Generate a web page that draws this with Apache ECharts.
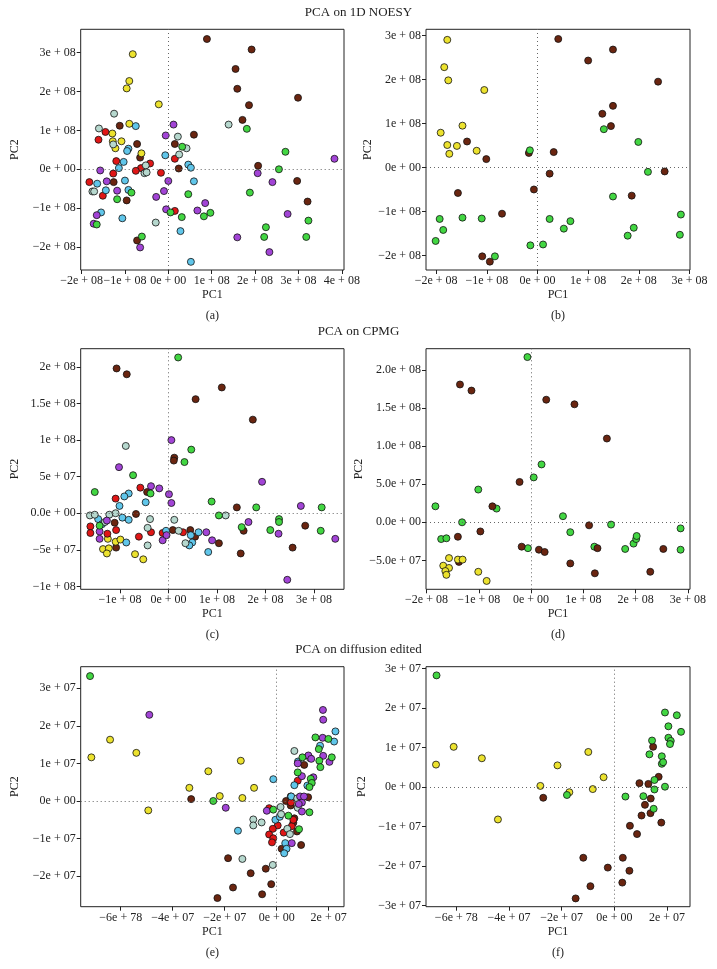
<!DOCTYPE html>
<html><head><meta charset="utf-8">
<script src="https://cdn.jsdelivr.net/npm/echarts@6/dist/echarts.min.js"></script>
<style>html,body{margin:0;padding:0;background:#fff}#c{width:717px;height:969px}</style>
</head><body><div id="c"></div><script>
const COL = {yellow:'#ece22e', brown:'#6a2510', red:'#e01616', blue:'#60c6ea', grey:'#b6d8ce', purple:'#a244d6', green:'#42d642'};
const FONT = '"Liberation Serif","Times New Roman",serif';

// ---------- Panel (a): PCA on 1D NOESY, all groups ----------
const a_brown = [[0.89e8,3.35e8],[1.92e8,3.08e8],[1.55e8,2.58e8],[1.59e8,2.07e8],[1.86e8,1.65e8],[1.71e8,1.27e8],[2.99e8,1.84e8],[-1.12e8,1.12e8],[0.59e8,0.89e8],[0.15e8,0.65e8],[-0.72e8,0.65e8],[-0.65e8,0.30e8],[0.24e8,0.02e8],[2.07e8,0.09e8],[2.97e8,-0.30e8],[3.21e8,-0.83e8],[-1.26e8,-0.33e8],[-0.96e8,-0.80e8],[-0.72e8,-1.83e8]];
const a_yellow = [[-0.82e8,2.96e8],[-0.90e8,2.27e8],[-0.96e8,2.08e8],[-0.22e8,1.67e8],[-0.90e8,1.17e8],[-1.29e8,0.92e8],[-1.28e8,0.72e8],[-1.08e8,0.72e8],[-1.22e8,0.54e8],[-0.62e8,0.41e8]];
const a_red = [[-1.45e8,0.96e8],[-1.61e8,0.76e8],[-1.20e8,0.21e8],[-0.63e8,0.03e8],[-0.42e8,0.15e8],[-0.75e8,-0.04e8],[-1.27e8,-0.11e8],[-1.82e8,-0.33e8],[-1.51e8,-0.68e8],[-0.17e8,-0.09e8],[0.15e8,0.27e8],[0.15e8,-1.07e8]];
const a_blue = [[-0.75e8,1.11e8],[-0.92e8,0.53e8],[-0.95e8,0.47e8],[-1.03e8,0.19e8],[-1.14e8,0.03e8],[-0.07e8,0.36e8],[0.46e8,0.12e8],[0.52e8,0.04e8],[0.59e8,-0.31e8],[-1.00e8,-0.29e8],[-1.64e8,-0.37e8],[-1.44e8,-0.54e8],[-1.55e8,-1.11e8],[-1.06e8,-1.26e8],[0.28e8,-1.59e8],[0.52e8,-2.38e8],[-0.92e8,-0.53e8]];
const a_grey = [[-1.25e8,1.43e8],[-1.60e8,1.05e8],[-1.27e8,0.64e8],[0.22e8,0.84e8],[0.42e8,0.54e8],[0.25e8,0.38e8],[-0.52e8,0.10e8],[-0.55e8,-0.10e8],[-0.50e8,-0.08e8],[-1.75e8,-0.57e8],[-1.71e8,-0.57e8],[-0.29e8,-1.37e8],[1.39e8,1.15e8]];
const a_purple = [[0.12e8,1.15e8],[-0.06e8,0.87e8],[-1.57e8,-0.03e8],[-1.42e8,-0.31e8],[-1.18e8,-0.55e8],[0.00e8,-0.30e8],[-0.10e8,-0.56e8],[-0.28e8,-0.71e8],[-0.05e8,-1.03e8],[0.67e8,-1.06e8],[0.85e8,-0.87e8],[-1.65e8,-1.18e8],[-1.72e8,-1.40e8],[-0.65e8,-2.01e8],[2.06e8,-0.10e8],[2.40e8,-0.33e8],[2.75e8,-1.15e8],[1.59e8,-1.75e8],[2.33e8,-2.13e8],[3.83e8,0.27e8]];
const a_green = [[0.32e8,0.58e8],[-0.85e8,-0.60e8],[-1.18e8,-0.77e8],[0.05e8,-1.11e8],[0.31e8,-1.23e8],[0.46e8,-0.64e8],[0.82e8,-1.21e8],[0.97e8,-1.12e8],[1.81e8,1.04e8],[2.70e8,0.45e8],[2.55e8,0.00e8],[1.88e8,-0.60e8],[3.23e8,-1.32e8],[2.25e8,-1.49e8],[2.21e8,-1.74e8],[3.18e8,-1.74e8],[-1.65e8,-1.42e8],[-0.61e8,-1.73e8]];

// ---------- Panel (b): PCA on 1D NOESY, three groups ----------
const b_yellow = [[-1.78e8,2.90e8],[-1.84e8,2.28e8],[-1.76e8,1.98e8],[-1.05e8,1.76e8],[-1.48e8,0.95e8],[-1.91e8,0.79e8],[-1.78e8,0.51e8],[-1.59e8,0.49e8],[-1.74e8,0.31e8],[-1.20e8,0.38e8]];
const b_brown = [[0.41e8,2.92e8],[1.00e8,2.43e8],[1.49e8,2.68e8],[2.38e8,1.95e8],[1.49e8,1.40e8],[1.28e8,1.22e8],[1.45e8,0.94e8],[-1.39e8,0.59e8],[-1.01e8,0.19e8],[-0.17e8,0.33e8],[0.32e8,0.35e8],[0.24e8,-0.14e8],[2.51e8,-0.09e8],[-0.07e8,-0.50e8],[-1.57e8,-0.58e8],[1.86e8,-0.64e8],[-0.70e8,-1.05e8],[-1.09e8,-2.02e8],[-0.94e8,-2.14e8]];
const b_green = [[-0.15e8,0.39e8],[1.31e8,0.87e8],[1.99e8,0.58e8],[2.18e8,-0.10e8],[1.49e8,-0.66e8],[-1.93e8,-1.17e8],[-1.48e8,-1.14e8],[-1.10e8,-1.16e8],[-1.86e8,-1.42e8],[-2.01e8,-1.67e8],[0.24e8,-1.17e8],[0.65e8,-1.22e8],[0.52e8,-1.39e8],[1.90e8,-1.37e8],[1.78e8,-1.55e8],[2.83e8,-1.07e8],[2.81e8,-1.53e8],[-0.14e8,-1.77e8],[0.11e8,-1.75e8],[-0.84e8,-2.02e8]];

// ---------- Panel (c): PCA on CPMG, all groups ----------
const c_brown = [[-1.07e8,1.98e8],[-0.86e8,1.90e8],[1.10e8,1.72e8],[0.56e8,1.56e8],[1.74e8,1.28e8],[0.12e8,0.76e8],[0.11e8,0.72e8],[-0.44e8,0.29e8],[-0.67e8,-0.01e8],[-1.11e8,-0.13e8],[-1.08e8,-0.47e8],[0.09e8,-0.23e8],[0.45e8,-0.23e8],[0.55e8,-0.32e8],[1.41e8,0.08e8],[1.04e8,-0.41e8],[1.55e8,-0.24e8],[1.49e8,-0.55e8],[2.82e8,-0.17e8],[2.56e8,-0.47e8]];
const c_yellow = [[-1.25e8,-0.35e8],[-1.35e8,-0.49e8],[-1.23e8,-0.48e8],[-1.27e8,-0.55e8],[-1.09e8,-0.39e8],[-0.99e8,-0.36e8],[-0.69e8,-0.56e8],[-0.52e8,-0.63e8]];
const c_red = [[-1.09e8,0.20e8],[-0.58e8,0.35e8],[-1.61e8,-0.18e8],[-1.61e8,-0.27e8],[-1.26e8,-0.28e8],[-1.08e8,-0.23e8],[-0.61e8,-0.32e8],[-0.36e8,-0.26e8],[-0.12e8,-0.27e8],[0.30e8,-0.26e8]];
const c_blue = [[-0.82e8,0.27e8],[-0.91e8,0.23e8],[-1.01e8,0.10e8],[-0.47e8,0.15e8],[-1.45e8,-0.08e8],[-0.95e8,-0.06e8],[-0.82e8,-0.09e8],[-1.37e8,-0.15e8],[-0.87e8,-0.40e8],[-0.05e8,-0.24e8],[0.46e8,-0.30e8],[0.49e8,-0.40e8],[0.43e8,-0.44e8],[0.62e8,-0.26e8],[0.82e8,-0.53e8]];
const c_grey = [[-0.88e8,0.92e8],[-1.62e8,-0.03e8],[-1.52e8,-0.02e8],[-1.22e8,-0.02e8],[-1.09e8,0.00e8],[-0.38e8,-0.08e8],[-0.43e8,-0.20e8],[-0.43e8,-0.44e8],[0.12e8,-0.09e8],[0.21e8,-0.24e8],[0.35e8,-0.41e8],[1.18e8,-0.03e8],[-1.31e8,-0.12e8]];
const c_purple = [[-1.02e8,0.63e8],[0.06e8,1.00e8],[-0.36e8,0.37e8],[-0.19e8,0.34e8],[0.01e8,0.26e8],[0.06e8,0.14e8],[-1.27e8,-0.10e8],[-1.42e8,-0.25e8],[-1.42e8,-0.35e8],[-0.12e8,-0.37e8],[-0.04e8,-0.30e8],[0.78e8,-0.26e8],[0.90e8,-0.37e8],[1.65e8,-0.12e8],[1.93e8,0.43e8],[2.27e8,-0.28e8],[2.73e8,0.10e8],[3.44e8,-0.35e8],[2.45e8,-0.91e8]];
const c_green = [[0.20e8,2.13e8],[0.47e8,0.87e8],[0.33e8,0.70e8],[-0.73e8,0.52e8],[-1.52e8,0.29e8],[-0.37e8,0.27e8],[-1.42e8,-0.17e8],[0.89e8,0.16e8],[1.04e8,-0.03e8],[1.81e8,0.08e8],[1.51e8,-0.19e8],[2.10e8,-0.23e8],[2.28e8,-0.08e8],[2.28e8,-0.12e8],[3.16e8,0.08e8],[3.14e8,-0.24e8]];

// ---------- Panel (d): PCA on CPMG, three groups ----------
const d_green = [[-0.07e8,2.17e8],[0.20e8,0.76e8],[0.05e8,0.59e8],[-1.01e8,0.43e8],[-1.83e8,0.21e8],[-0.66e8,0.18e8],[-1.32e8,0.00e8],[-1.72e8,-0.22e8],[-1.62e8,-0.21e8],[-0.06e8,-0.34e8],[0.61e8,0.08e8],[0.75e8,-0.13e8],[1.53e8,-0.03e8],[1.21e8,-0.32e8],[1.80e8,-0.35e8],[1.96e8,-0.28e8],[2.01e8,-0.22e8],[2.02e8,-0.18e8],[2.86e8,-0.08e8],[2.86e8,-0.36e8]];
const d_brown = [[-1.36e8,1.81e8],[-1.14e8,1.73e8],[0.29e8,1.61e8],[0.83e8,1.55e8],[1.45e8,1.10e8],[-0.22e8,0.53e8],[-0.74e8,0.21e8],[-0.97e8,-0.12e8],[-1.40e8,-0.19e8],[-1.38e8,-0.52e8],[-0.18e8,-0.32e8],[0.15e8,-0.36e8],[0.26e8,-0.39e8],[1.11e8,-0.04e8],[1.27e8,-0.34e8],[0.75e8,-0.54e8],[1.22e8,-0.67e8],[2.28e8,-0.65e8],[2.53e8,-0.35e8]];
const d_yellow = [[-1.57e8,-0.47e8],[-1.40e8,-0.49e8],[-1.31e8,-0.49e8],[-1.68e8,-0.57e8],[-1.57e8,-0.60e8],[-1.64e8,-0.64e8],[-1.62e8,-0.69e8],[-1.01e8,-0.65e8],[-0.85e8,-0.77e8]];

// ---------- Panel (e): PCA on diffusion edited, all groups ----------
const e_green = [[-7.18e7,3.32e7],[-2.44e7,0.00e7],[-0.13e7,-0.23e7],[1.49e7,1.69e7],[1.62e7,1.38e7],[1.99e7,1.65e7],[2.12e7,1.16e7],[1.64e7,1.07e7],[1.68e7,0.90e7],[0.99e7,1.16e7],[0.81e7,0.76e7],[1.31e7,0.59e7],[1.35e7,0.48e7],[1.26e7,0.37e7],[0.45e7,-0.39e7],[0.86e7,-0.75e7],[1.26e7,-0.30e7]];
const e_yellow = [[-7.13e7,1.16e7],[-6.41e7,1.63e7],[-5.40e7,1.28e7],[-4.94e7,-0.25e7],[-3.36e7,0.35e7],[-2.63e7,0.79e7],[-2.19e7,0.13e7],[-1.38e7,1.07e7],[-1.32e7,0.08e7],[-0.87e7,0.35e7]];
const e_purple = [[-4.90e7,2.29e7],[-1.96e7,-0.18e7],[1.78e7,2.42e7],[1.79e7,2.16e7],[1.77e7,1.68e7],[1.79e7,1.20e7],[2.03e7,1.04e7],[1.22e7,1.21e7],[1.33e7,1.12e7],[0.81e7,1.00e7],[0.97e7,0.66e7],[1.41e7,0.63e7],[-0.38e7,-0.26e7],[0.58e7,-1.12e7],[0.90e7,0.12e7],[0.97e7,-0.04e7],[0.85e7,-0.08e7],[0.97e7,-0.28e7],[1.05e7,0.12e7]];
const e_brown = [[-3.29e7,0.05e7],[0.36e7,0.00e7],[0.54e7,0.12e7],[0.54e7,-0.12e7],[0.68e7,-0.46e7],[0.64e7,-0.58e7],[0.78e7,-0.81e7],[1.06e7,0.96e7],[1.21e7,0.10e7],[0.94e7,-1.17e7],[0.19e7,-1.27e7],[-1.87e7,-1.52e7],[-0.42e7,-1.80e7],[-1.00e7,-1.92e7],[-1.68e7,-2.30e7],[-0.21e7,-2.21e7],[-0.56e7,-2.48e7],[-2.28e7,-2.58e7]];
const e_red = [[0.81e7,0.54e7],[-0.29e7,-0.19e7],[0.04e7,-0.65e7],[-0.15e7,-0.74e7],[-0.29e7,-0.89e7],[-0.13e7,-0.99e7],[-0.18e7,-1.10e7],[0.27e7,-0.84e7],[0.58e7,-0.67e7],[0.64e7,-0.50e7],[0.55e7,-0.04e7]];
const e_blue = [[-0.13e7,0.58e7],[0.68e7,0.42e7],[0.56e7,0.12e7],[0.82e7,1.05e7],[1.67e7,1.47e7],[2.21e7,1.58e7],[2.26e7,1.85e7],[-1.49e7,-0.79e7],[-0.05e7,-0.50e7],[0.12e7,-0.42e7],[0.33e7,-1.12e7],[0.38e7,-1.27e7],[0.29e7,-1.39e7],[1.18e7,0.41e7]];
const e_grey = [[0.68e7,1.33e7],[1.28e7,1.14e7],[-0.90e7,-0.49e7],[-0.90e7,-0.65e7],[-0.58e7,-0.57e7],[0.15e7,-0.16e7],[0.17e7,-0.35e7],[0.41e7,-0.74e7],[0.51e7,-0.88e7],[0.81e7,-0.18e7],[0.79e7,0.07e7],[-1.32e7,-1.54e7],[-0.15e7,-1.70e7]];

// ---------- Panel (f): PCA on diffusion edited, three groups ----------
const f_green = [[-6.75e7,2.83e7],[1.92e7,1.89e7],[2.37e7,1.82e7],[2.05e7,1.54e7],[2.53e7,1.40e7],[2.05e7,1.25e7],[2.14e7,1.17e7],[2.11e7,1.09e7],[1.43e7,1.18e7],[1.33e7,0.83e7],[1.80e7,0.78e7],[1.80e7,0.59e7],[1.85e7,0.63e7],[1.52e7,0.18e7],[1.92e7,0.01e7],[1.52e7,-0.06e7],[0.42e7,-0.24e7],[1.10e7,-0.23e7],[1.49e7,-0.55e7],[-1.80e7,-0.20e7]];
const f_yellow = [[-6.77e7,0.57e7],[-6.10e7,1.02e7],[-5.03e7,0.73e7],[-4.42e7,-0.82e7],[-2.81e7,0.03e7],[-2.16e7,0.55e7],[-1.71e7,-0.13e7],[-0.99e7,0.89e7],[-0.82e7,-0.05e7],[-0.41e7,0.25e7]];
const f_brown = [[-2.70e7,-0.27e7],[1.47e7,1.02e7],[1.68e7,0.26e7],[0.95e7,0.10e7],[1.29e7,0.08e7],[1.38e7,-0.29e7],[1.16e7,-0.45e7],[1.37e7,-0.66e7],[1.03e7,-0.72e7],[1.78e7,-0.90e7],[0.59e7,-0.98e7],[0.86e7,-1.19e7],[-1.18e7,-1.79e7],[0.32e7,-1.79e7],[-0.25e7,-2.04e7],[0.57e7,-2.12e7],[-0.91e7,-2.51e7],[0.30e7,-2.42e7],[-1.47e7,-2.82e7]];

// ---------- Tick values and labels ----------
const tE8_a_x = [-2e8,-1e8,0,1e8,2e8,3e8,4e8];
const lab_a_x = ['\u22122e + 08','\u22121e + 08','0e + 00','1e + 08','2e + 08','3e + 08','4e + 08'];
const tE8_a_y = [-2e8,-1e8,0,1e8,2e8,3e8];
const lab_a_y = ['\u22122e + 08','\u22121e + 08','0e + 00','1e + 08','2e + 08','3e + 08'];
const tE8_b_x = [-2e8,-1e8,0,1e8,2e8,3e8];
const lab_b_x = ['\u22122e + 08','\u22121e + 08','0e + 00','1e + 08','2e + 08','3e + 08'];
const tE8_c_x = [-1e8,0,1e8,2e8,3e8];
const lab_c_x = ['\u22121e + 08','0e + 00','1e + 08','2e + 08','3e + 08'];
const tE8_c_y = [-1e8,-5e7,0,5e7,1e8,1.5e8,2e8];
const lab_c_y = ['\u22121e + 08','\u22125e + 07','0.0e + 00','5e + 07','1e + 08','1.5e + 08','2e + 08'];
const tE8_d_y = [-5e7,0,5e7,1e8,1.5e8,2e8];
const lab_d_y = ['\u22125.0e + 07','0.0e + 00','5.0e + 07','1.0e + 08','1.5e + 08','2.0e + 08'];
const tE7_e_x = [-6e7,-4e7,-2e7,0,2e7];
const lab_e_x = ['\u22126e + 78','\u22124e + 07','\u22122e + 07','0e + 00','2e + 07'];
const tE7_e_y = [-2e7,-1e7,0,1e7,2e7,3e7];
const lab_e_y = ['\u22122e + 07','\u22121e + 07','0e + 00','1e + 07','2e + 07','3e + 07'];
const tE7_f_y = [-3e7,-2e7,-1e7,0,1e7,2e7,3e7];
const lab_f_y = ['\u22123e + 07','\u22122e + 07','\u22121e + 07','0e + 00','1e + 07','2e + 07','3e + 07'];

const panels = [
  {g:{left:80.7,top:29.3,width:263.3,height:240.7}, xr:[-2.02e8,4.05e8], yr:[-2.59e8,3.60e8], xt:tE8_a_x, xl:lab_a_x, yt:tE8_a_y, yl:lab_a_y, yGap:66, tag:'(a)',
   s:[[a_brown,'brown'],[a_yellow,'yellow'],[a_red,'red'],[a_blue,'blue'],[a_grey,'grey'],[a_purple,'purple'],[a_green,'green']]},
  {g:{left:426,top:29.3,width:264,height:240.7}, xr:[-2.20e8,3.01e8], yr:[-2.33e8,3.14e8], xt:tE8_b_x, xl:lab_b_x, yt:tE8_a_y, yl:lab_a_y, yGap:56, tag:'(b)',
   s:[[b_yellow,'yellow'],[b_brown,'brown'],[b_green,'green']]},
  {g:{left:80.7,top:348.7,width:263.3,height:240.6}, xr:[-1.81e8,3.62e8], yr:[-1.04e8,2.25e8], xt:tE8_c_x, xl:lab_c_x, yt:tE8_c_y, yl:lab_c_y, yGap:66, tag:'(c)',
   s:[[c_brown,'brown'],[c_yellow,'yellow'],[c_red,'red'],[c_blue,'blue'],[c_grey,'grey'],[c_purple,'purple'],[c_green,'green']]},
  {g:{left:426,top:348.7,width:264,height:240.6}, xr:[-2.01e8,3.04e8], yr:[-0.88e8,2.28e8], xt:tE8_b_x, xl:lab_b_x, yt:tE8_d_y, yl:lab_d_y, yGap:64, tag:'(d)',
   s:[[d_green,'green'],[d_brown,'brown'],[d_yellow,'yellow']]},
  {g:{left:80.7,top:666.7,width:263.3,height:240}, xr:[-7.54e7,2.59e7], yr:[-2.81e7,3.57e7], xt:tE7_e_x, xl:lab_e_x, yt:tE7_e_y, yl:lab_e_y, yGap:66, tag:'(e)',
   s:[[e_brown,'brown'],[e_yellow,'yellow'],[e_red,'red'],[e_blue,'blue'],[e_grey,'grey'],[e_purple,'purple'],[e_green,'green']]},
  {g:{left:426,top:666.7,width:264,height:240}, xr:[-7.15e7,2.87e7], yr:[-3.03e7,3.05e7], xt:tE7_e_x, xl:lab_e_x, yt:tE7_f_y, yl:lab_f_y, yGap:64, tag:'(f)',
   s:[[f_yellow,'yellow'],[f_brown,'brown'],[f_green,'green']]}
];

function lookup(ticks, labels){
  return function(v){
    for (let i=0;i<ticks.length;i++){ if (Math.abs(ticks[i]-v) <= Math.abs(ticks[i])*1e-6 + 1e-3) return labels[i]; }
    return '';
  };
}

const grid=[], xAxis=[], yAxis=[], series=[], graphic=[];
const lblStyle = {fontFamily:FONT, fontSize:12, color:'#222'};
panels.forEach((p,i)=>{
  grid.push(Object.assign({show:true, borderColor:'#222', borderWidth:1, backgroundColor:'transparent', containLabel:false}, p.g));
  xAxis.push({type:'value', gridIndex:i, position:'bottom', min:p.xr[0], max:p.xr[1], name:'PC1', nameLocation:'middle', nameGap:19,
    nameTextStyle:{fontFamily:FONT, fontSize:12, color:'#222'},
    axisLine:{show:false, onZero:false}, splitLine:{show:false},
    axisTick:{show:true, inside:false, length:4, lineStyle:{color:'#222'}, customValues:p.xt},
    axisLabel:Object.assign({margin:5, customValues:p.xt, formatter:lookup(p.xt,p.xl)}, lblStyle)});
  yAxis.push({type:'value', gridIndex:i, position:'left', min:p.yr[0], max:p.yr[1], name:'PC2', nameLocation:'middle', nameGap:p.yGap-6,
    nameTextStyle:{fontFamily:FONT, fontSize:12, color:'#222'},
    axisLine:{show:false, onZero:false}, splitLine:{show:false},
    axisTick:{show:true, inside:false, length:4, lineStyle:{color:'#222'}, customValues:p.yt},
    axisLabel:Object.assign({margin:5, customValues:p.yt, formatter:lookup(p.yt,p.yl)}, lblStyle)});
  series.push({type:'scatter', xAxisIndex:i, yAxisIndex:i, data:[], z:1, silent:true,
    markLine:{silent:true, symbol:'none', animation:false, label:{show:false},
      lineStyle:{color:'#666', width:1, type:[1,3]}, data:[{xAxis:0},{yAxis:0}]}});
  p.s.forEach(([d,c])=>{
    series.push({type:'scatter', xAxisIndex:i, yAxisIndex:i, data:d, z:2, symbol:'circle', symbolSize:7,
      itemStyle:{color:COL[c], borderColor:'#111', borderWidth:0.8, opacity:1}, animation:false});
  });
  graphic.push({type:'text', x:p.g.left + p.g.width/2, y: p.g.top + p.g.height + 46,
    style:{text:p.tag, font:'12px '+FONT, fill:'#222', textAlign:'center', textVerticalAlign:'middle'}});
});
[['PCA on 1D NOESY',12.7],['PCA on CPMG',331.7],['PCA on diffusion edited',650]].forEach(([t,y])=>{
  graphic.push({type:'text', x:358.5, y:y, style:{text:t, font:'13px '+FONT, fill:'#222', textAlign:'center', textVerticalAlign:'middle'}});
});

const chart = echarts.init(document.getElementById('c'), null, {renderer:'canvas'});
chart.setOption({animation:false, backgroundColor:'#fff', grid, xAxis, yAxis, series, graphic});
</script></body></html>
